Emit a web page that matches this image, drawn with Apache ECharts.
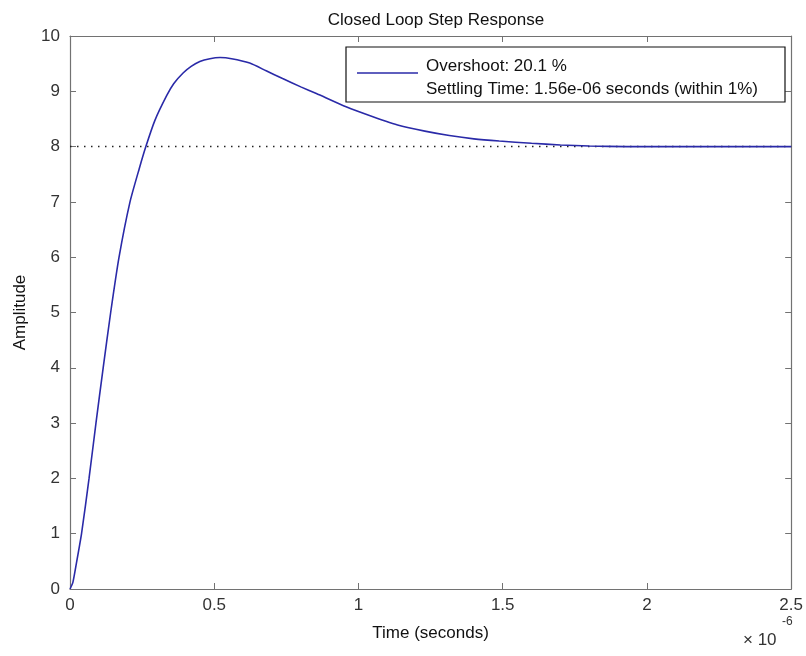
<!DOCTYPE html>
<html>
<head>
<meta charset="utf-8">
<script src="https://cdn.jsdelivr.net/npm/echarts@6/dist/echarts.min.js"></script>
<style>
  html, body { margin: 0; padding: 0; background: #fff; }
  #chart { width: 806px; height: 656px; }
</style>
</head>
<body>
<div id="chart"></div>
<script>
// time in units of 1e-6 s
const time = [0, 0.01, 0.02, 0.04, 0.066, 0.09, 0.115, 0.141, 0.17, 0.208, 0.24, 0.263, 0.294, 0.335, 0.36, 0.392, 0.42, 0.45, 0.485, 0.52, 0.56, 0.623, 0.68, 0.737, 0.8, 0.854, 0.957, 1.05, 1.142, 1.23, 1.315, 1.4, 1.488, 1.6, 1.7, 1.8, 1.93, 2.5];
const amplitude = [0, 0.12, 0.4, 1.0, 2.0, 3.0, 4.0, 5.0, 6.0, 7.0, 7.6, 8.0, 8.47, 8.92, 9.14, 9.33, 9.45, 9.54, 9.59, 9.61, 9.59, 9.51, 9.37, 9.23, 9.08, 8.96, 8.72, 8.54, 8.38, 8.28, 8.2, 8.14, 8.1, 8.06, 8.03, 8.01, 8.0, 8.0];
const finalValue = 8;
const xTicks = ["0", "0.5", "1", "1.5", "2", "2.5"];
const legendLines = ["Overshoot: 20.1 %", "Settling Time: 1.56e-06 seconds (within 1%)"];

const font = "'Liberation Sans', Arial, sans-serif";
const axisColor = "#727272";
const lineColor = "#2a2aa8";
const fs = 17;

const axisBase = {
  axisLine: { show: true, onZero: false, lineStyle: { color: axisColor, width: 1.2 } },
  axisTick: { show: true, inside: true, length: 6, lineStyle: { color: axisColor } },
  splitLine: { show: false },
};

const chart = echarts.init(document.getElementById("chart"));
chart.setOption({
  animation: false,
  backgroundColor: "#fff",
  textStyle: { fontFamily: font },
  title: {
    text: "Closed Loop Step Response",
    left: 431, top: 7, textAlign: "center",
    textStyle: { fontSize: fs, fontWeight: "normal", color: "#111", fontFamily: font },
  },
  grid: { left: 70, right: 11, top: 36, bottom: 67 },
  xAxis: [
    {
      ...axisBase, type: "value", min: 0, max: 2.5, interval: 0.5,
      name: "Time (seconds)", nameLocation: "middle", nameGap: 36,
      nameTextStyle: { fontSize: fs, color: "#111", fontFamily: font },
      axisLabel: { fontSize: fs, color: "#333", margin: 8, formatter: (v) => xTicks[Math.round(v / 0.5)] },
    },
    { ...axisBase, type: "value", position: "top", min: 0, max: 2.5, interval: 0.5, axisLabel: { show: false } },
  ],
  yAxis: [
    {
      ...axisBase, type: "value", min: 0, max: 10, interval: 1,
      name: "Amplitude", nameLocation: "middle", nameGap: 41,
      nameTextStyle: { fontSize: fs, color: "#111", fontFamily: font },
      axisLabel: { fontSize: fs, color: "#333", margin: 10 },
    },
    { ...axisBase, type: "value", position: "right", min: 0, max: 10, interval: 1, axisLabel: { show: false } },
  ],
  series: [
    {
      type: "line", silent: true, symbol: "none",
      data: [[0, finalValue], [2.5, finalValue]],
      lineStyle: { color: "#222", width: 1.5, type: [1.5, 5.5] },
    },
    {
      type: "line", silent: true, symbol: "none", smooth: 0.2,
      data: time.map((t, i) => [t, amplitude[i]]),
      lineStyle: { color: lineColor, width: 1.6 },
    },
  ],
  graphic: [
    {
      type: "rect", shape: { x: 346, y: 47, width: 439, height: 55 },
      style: { fill: "#fff", stroke: "#111", lineWidth: 1.2 }, z: 100,
    },
    {
      type: "line", shape: { x1: 357, y1: 73, x2: 418, y2: 73 },
      style: { stroke: lineColor, lineWidth: 1.6 }, z: 101,
    },
    {
      type: "text", left: 426, top: 58, z: 101,
      style: { text: legendLines[0], fontSize: fs, fill: "#111", fontFamily: font },
    },
    {
      type: "text", left: 426, top: 81, z: 101,
      style: { text: legendLines[1], fontSize: fs, fill: "#111", fontFamily: font },
    },
    {
      type: "text", left: 743, top: 632, z: 101,
      style: { text: "\u00d7 10", fontSize: fs, fill: "#333", fontFamily: font },
    },
    {
      type: "text", left: 782, top: 616, z: 101,
      style: { text: "-6", fontSize: 12, fill: "#333", fontFamily: font },
    },
  ],
});
</script>
</body>
</html>
